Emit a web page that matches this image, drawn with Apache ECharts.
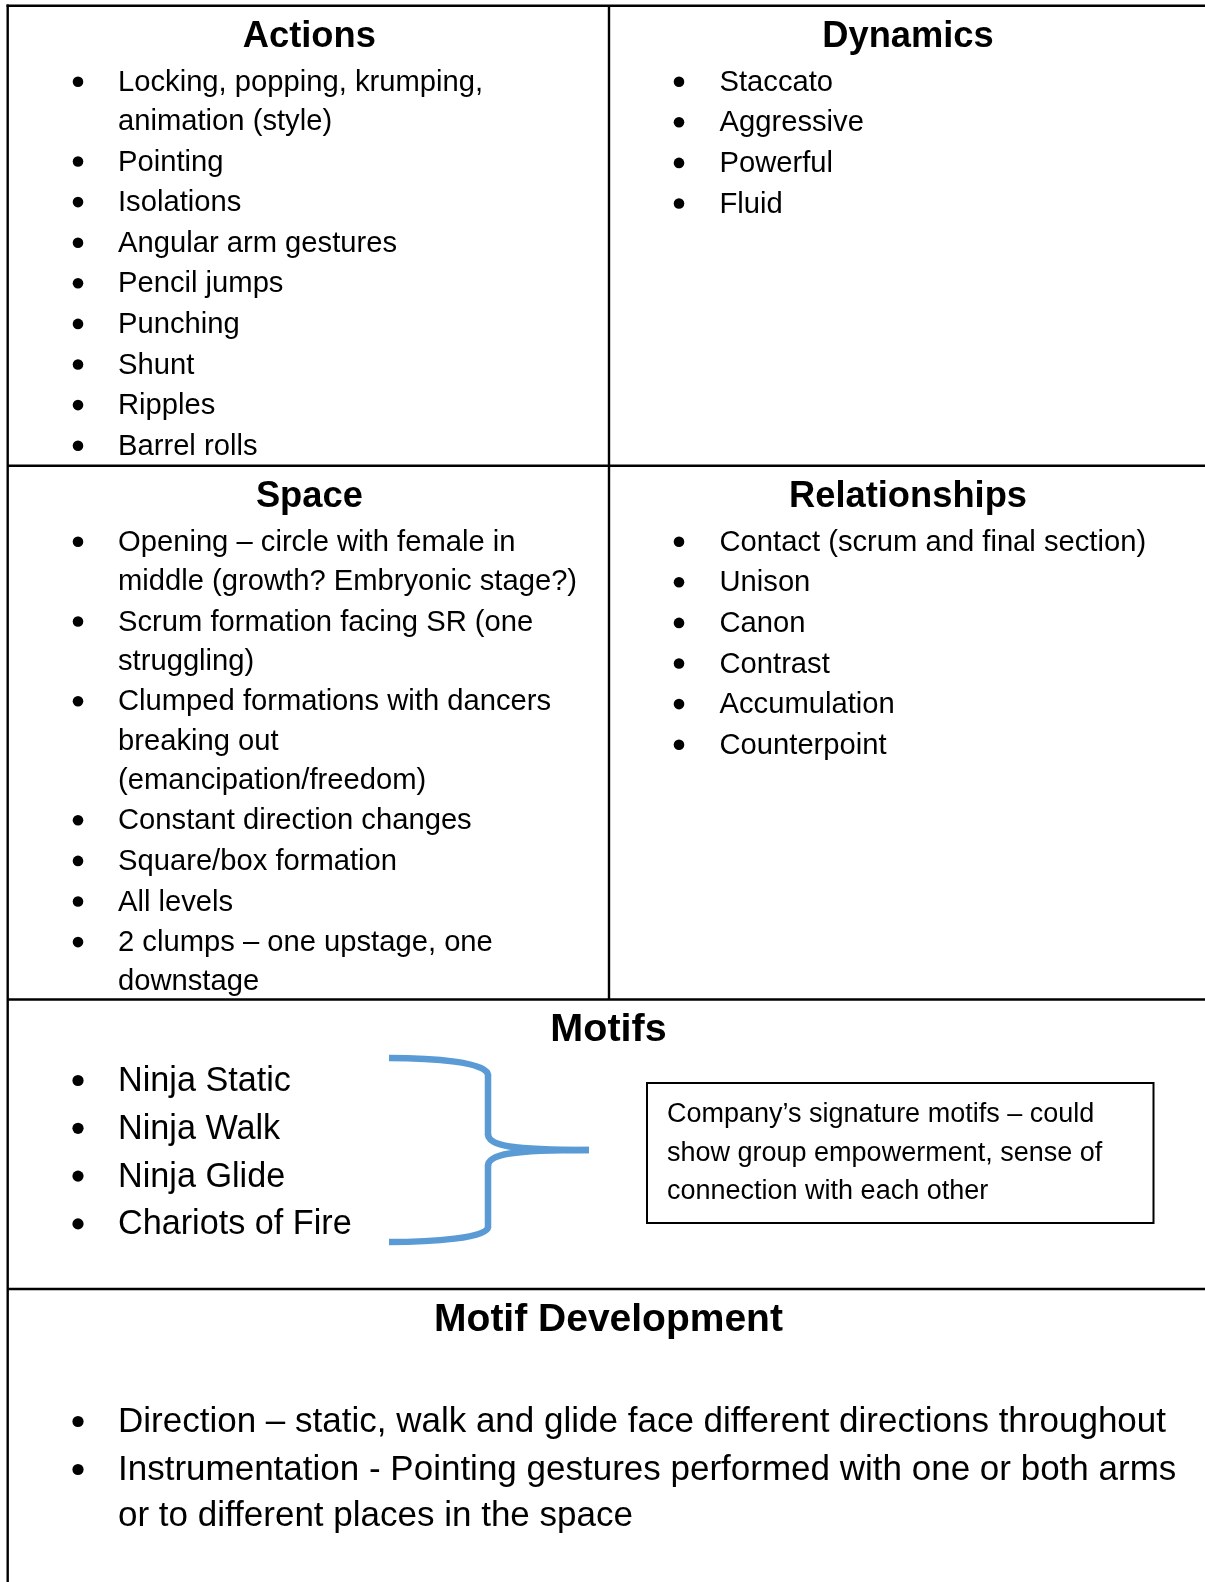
<!DOCTYPE html>
<html>
<head>
<meta charset="utf-8">
<script src="https://cdn.jsdelivr.net/npm/echarts@6/dist/echarts.min.js"></script>
<style>
  html, body { margin: 0; padding: 0; background: #ffffff; }
  #chart { width: 1205px; height: 1582px; }
</style>
</head>
<body>
<div id="chart"></div>
<script>
// ---- content (each item is a list of wrapped lines) ----
var sectionTitles = ['Actions', 'Dynamics', 'Space', 'Relationships', 'Motifs', 'Motif Development'];

var actionsItems = [
  ['Locking, popping, krumping,', 'animation (style)'],
  ['Pointing'],
  ['Isolations'],
  ['Angular arm gestures'],
  ['Pencil jumps'],
  ['Punching'],
  ['Shunt'],
  ['Ripples'],
  ['Barrel rolls']
];

var dynamicsItems = [
  ['Staccato'],
  ['Aggressive'],
  ['Powerful'],
  ['Fluid']
];

var spaceItems = [
  ['Opening \u2013 circle with female in', 'middle (growth? Embryonic stage?)'],
  ['Scrum formation facing SR (one', 'struggling)'],
  ['Clumped formations with dancers', 'breaking out', '(emancipation/freedom)'],
  ['Constant direction changes'],
  ['Square/box formation'],
  ['All levels'],
  ['2 clumps \u2013 one upstage, one', 'downstage']
];

var relationshipsItems = [
  ['Contact (scrum and final section)'],
  ['Unison'],
  ['Canon'],
  ['Contrast'],
  ['Accumulation'],
  ['Counterpoint']
];

var motifItems = [
  ['Ninja Static'],
  ['Ninja Walk'],
  ['Ninja Glide'],
  ['Chariots of Fire']
];

var motifNoteLines = [
  'Company\u2019s signature motifs \u2013 could',
  'show group empowerment, sense of',
  'connection with each other'
];

var motifDevItems = [
  ['Direction \u2013 static, walk and glide face different directions throughout'],
  ['Instrumentation - Pointing gestures performed with one or both arms', 'or to different places in the space']
];

// ---- layout / style ----
var W = 1205, H = 1582;
var FONT = '"Liberation Sans", Arial, sans-serif';
var LEFT = 7.7, TOP = 5.7, MID = 609;
var ROW1 = 465.7, ROW2 = 999.5, ROW3 = 1289;
var colLeftCenter = (LEFT + MID) / 2 + 1;
var colRightCenter = (MID + W) / 2 + 1;
var fullCenter = 608.5;

var elements = [];

function hline(y, x1, x2, w) {
  elements.push({ type: 'line', silent: true, shape: { x1: x1, y1: y, x2: x2, y2: y },
    style: { stroke: '#000', lineWidth: w || 2.4 } });
}
function vline(x, y1, y2, w) {
  elements.push({ type: 'line', silent: true, shape: { x1: x, y1: y1, x2: x, y2: y2 },
    style: { stroke: '#000', lineWidth: w || 2.4 } });
}
function title(text, cx, cy, size) {
  elements.push({ type: 'text', silent: true, x: cx, y: cy,
    style: { text: text, fill: '#000', font: 'bold ' + size + 'px ' + FONT, textAlign: 'center', textVerticalAlign: 'middle' } });
}
function list(items, bulletX, textX, startY, itemGap, wrapGap, fontSize, bulletR) {
  var y = startY;
  items.forEach(function (lines, k) {
    if (k > 0) y += itemGap;
    elements.push({ type: 'circle', silent: true, shape: { cx: bulletX, cy: y - 1, r: bulletR },
      style: { fill: '#000' } });
    lines.forEach(function (ln, j) {
      if (j > 0) y += wrapGap;
      elements.push({ type: 'text', silent: true, x: textX, y: y,
        style: { text: ln, fill: '#000', font: fontSize + 'px ' + FONT, textAlign: 'left', textVerticalAlign: 'middle' } });
    });
  });
}

// table grid
hline(TOP, LEFT - 1.2, W);
vline(LEFT, TOP - 1.2, H);
vline(MID, TOP, ROW2);
hline(ROW1, LEFT, W);
hline(ROW2, LEFT, W);
hline(ROW3, LEFT, W);

// titles
title(sectionTitles[0], colLeftCenter, TOP + 31.5, 36.3);
title(sectionTitles[1], colRightCenter, TOP + 31.5, 36.3);
title(sectionTitles[2], colLeftCenter, ROW1 + 31.5, 36.3);
title(sectionTitles[3], colRightCenter, ROW1 + 31.5, 36.3);
title(sectionTitles[4], fullCenter, ROW2 + 31, 39.5);
title(sectionTitles[5], fullCenter, ROW3 + 31, 39);

// lists
list(actionsItems, 78, 118, TOP + 77, 40.6, 39.2, 29.2, 5.3);
list(dynamicsItems, 679, 719.5, TOP + 77, 40.6, 39.2, 29.2, 5.3);
list(spaceItems, 78, 118, ROW1 + 77, 40.6, 39.2, 29.2, 5.3);
list(relationshipsItems, 679, 719.5, ROW1 + 77, 40.6, 39.2, 29.2, 5.3);
list(motifItems, 78, 118, 1081.5, 47.8, 47.8, 34.2, 5.6);
list(motifDevItems, 78, 118, 1422.5, 48, 46, 35, 5.6);

// brace (blue)
var braceStyle = { stroke: '#5B9BD5', lineWidth: 6.5, fill: null, lineCap: 'butt' };
[
  { x1: 389, y1: 1058, cpx1: 432, cpy1: 1058, cpx2: 488, cpy2: 1062, x2: 488, y2: 1075 },
  { x1: 488, y1: 1134, cpx1: 488, cpy1: 1146, cpx2: 512, cpy2: 1150, x2: 589, y2: 1150 },
  { x1: 589, y1: 1150, cpx1: 512, cpy1: 1150, cpx2: 488, cpy2: 1154, x2: 488, y2: 1166 },
  { x1: 488, y1: 1227, cpx1: 488, cpy1: 1238, cpx2: 432, cpy2: 1242, x2: 389, y2: 1242 }
].forEach(function (s) {
  elements.push({ type: 'bezierCurve', silent: true, shape: s, style: braceStyle });
});
elements.push({ type: 'line', silent: true, shape: { x1: 488, y1: 1074, x2: 488, y2: 1135 }, style: braceStyle });
elements.push({ type: 'line', silent: true, shape: { x1: 488, y1: 1165, x2: 488, y2: 1228 }, style: braceStyle });

// note box
elements.push({ type: 'rect', silent: true, shape: { x: 647, y: 1083, width: 506.5, height: 140 },
  style: { stroke: '#000', lineWidth: 2, fill: '#fff' } });
motifNoteLines.forEach(function (ln, i) {
  elements.push({ type: 'text', silent: true, x: 667, y: 1115 + i * 38.3,
    style: { text: ln, fill: '#000', font: '27px ' + FONT, textAlign: 'left', textVerticalAlign: 'middle' } });
});

var chart = echarts.init(document.getElementById('chart'), null, { renderer: 'canvas', width: W, height: H });
chart.setOption({
  backgroundColor: '#ffffff',
  animation: false,
  graphic: { elements: elements }
});
</script>
</body>
</html>
